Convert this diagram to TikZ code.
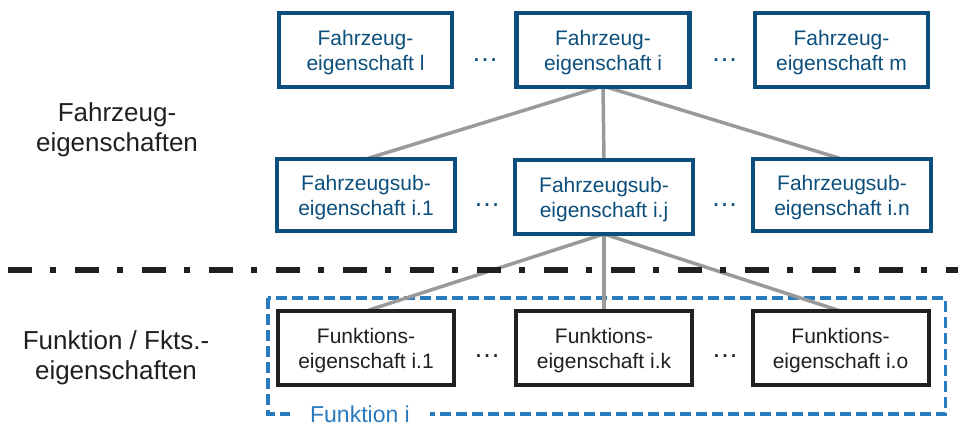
\documentclass[tikz,border=0pt]{standalone}
\usepackage{fontspec}
\setmainfont{Liberation Sans}
\definecolor{vehblue}{HTML}{0C4F7D}
\definecolor{fnblue}{HTML}{2A7BBD}
\definecolor{linkgray}{HTML}{9A9A9A}
\definecolor{fnblack}{HTML}{231F20}
\begin{document}
\begin{tikzpicture}[x=1pt,y=-1pt,
  vehbox/.style={draw=vehblue, line width=4.5pt, fill=white, text=vehblue,
    minimum width=173pt, minimum height=74pt, inner sep=0pt, align=center,
    text depth=0pt, font=\fontsize{21}{25}\selectfont},
  subbox/.style={vehbox, minimum width=178pt, minimum height=72pt},
  fnbox/.style={draw=fnblack, line width=4pt, fill=white, text=fnblack,
    minimum width=176pt, minimum height=74pt, inner sep=0pt, align=center,
    text depth=0pt, font=\fontsize{21}{25}\selectfont},
  gap/.style={anchor=base, inner sep=0pt, font=\fontsize{27}{27}\selectfont},
  levellabel/.style={align=center, text depth=0pt, text=fnblack,
    font=\fontsize{26}{30}\selectfont},
  link/.style={draw=linkgray, line width=3.5pt},
  fnframe/.style={draw=fnblue, line width=3.4pt, dash pattern=on 11pt off 5pt}
]
\useasboundingbox (0,0) rectangle (958,425);

% frame around the function level
\draw[fnframe] (268,298) rectangle (945.5,414);
\node[fill=white, text=fnblue, anchor=base, inner xsep=20pt, inner ysep=2pt,
  font=\fontsize{23}{25}\selectfont] (fnname) at (360,422) {Funktion i};

% connector anchors (boxes are drawn on top afterwards)
\coordinate (tiS) at (603,86);
\coordinate (s1N) at (366,159);
\coordinate (sjN) at (604,160);
\coordinate (snN) at (842,159);
\coordinate (sjS) at (604,234);
\coordinate (f1N) at (366,311);
\coordinate (fkN) at (604,311);
\coordinate (foN) at (840.5,311);

\draw[link] (tiS) -- (s1N);
\draw[link] (tiS) -- (sjN);
\draw[link] (tiS) -- (snN);
\draw[link] (sjS) -- (f1N);
\draw[link] (sjS) -- (fkN);
\draw[link] (sjS) -- (foN);

% level separator
\coordinate (sepL) at (8,270);
\coordinate (sepR) at (958,270);
\draw[line width=6.5pt, fnblack, dash pattern=on 24pt off 18pt on 6pt off 19pt]
  (sepL) -- (sepR);

% vehicle properties
\node[vehbox] (tl) at (365.5,50) {Fahrzeug-\\eigenschaft l};
\node[vehbox] (ti) at (603,50) {Fahrzeug-\\eigenschaft i};
\node[vehbox] (tm) at (841.5,50) {Fahrzeug-\\eigenschaft m};
\node[gap, text=vehblue] (g1) at (485,62) {…};
\node[gap, text=vehblue] (g2) at (724.7,62) {…};

% vehicle sub-properties
\node[subbox] (s1) at (366,195) {Fahrzeugsub-\\eigenschaft i.1};
\node[subbox, minimum height=74pt] (sj) at (604,197) {Fahrzeugsub-\\eigenschaft i.j};
\node[subbox] (sn) at (842,195) {Fahrzeugsub-\\eigenschaft i.n};
\node[gap, text=vehblue] (g3) at (487,206.5) {…};
\node[gap, text=vehblue] (g4) at (724.5,206.5) {…};

% function properties
\node[fnbox] (f1) at (366,348) {Funktions-\\eigenschaft i.1};
\node[fnbox] (fk) at (604,348) {Funktions-\\eigenschaft i.k};
\node[fnbox] (fo) at (840.5,348) {Funktions-\\eigenschaft i.o};
\node[gap, text=fnblack] (g5) at (487,357.5) {…};
\node[gap, text=fnblack] (g6) at (725,357.5) {…};

% level captions
\node[levellabel] (lvlveh) at (117,127) {Fahrzeug-\\eigenschaften};
\node[levellabel] (lvlfn) at (116,355.5) {Funktion / Fkts.-\\eigenschaften};
\end{tikzpicture}
\end{document}
